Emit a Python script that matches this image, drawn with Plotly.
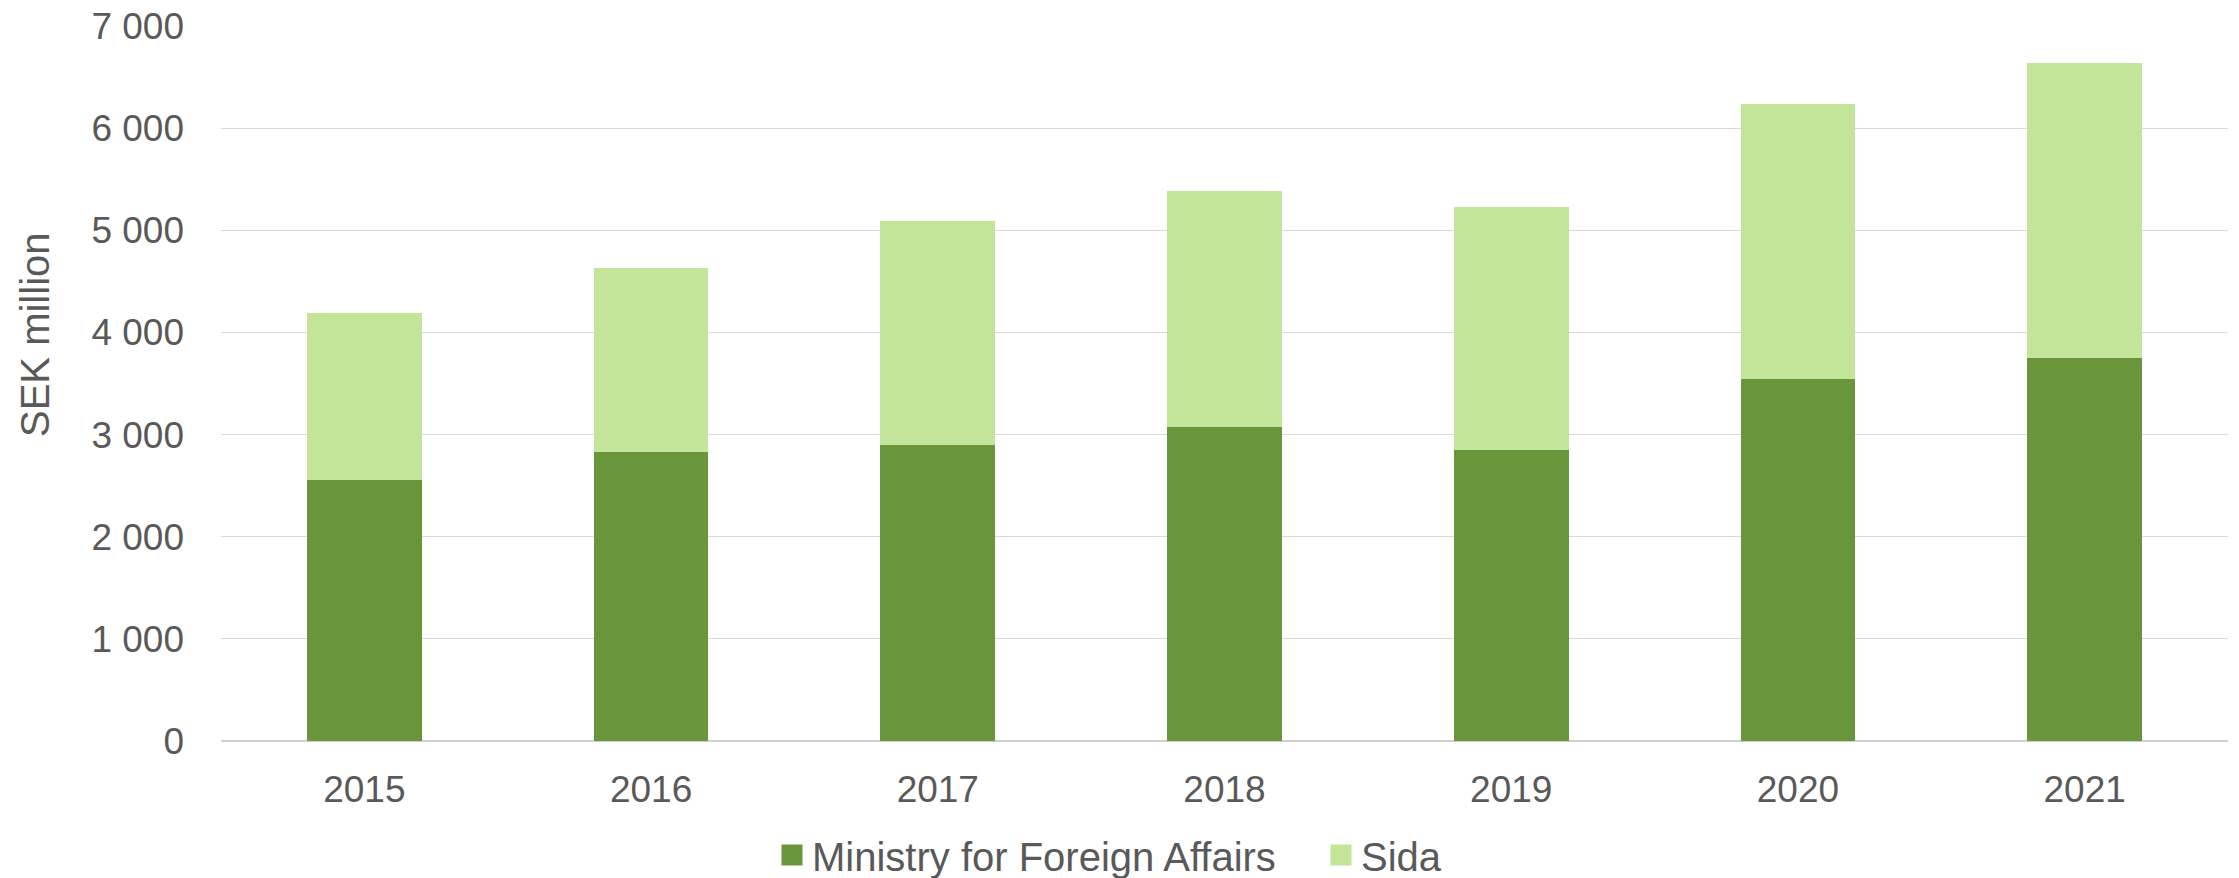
import plotly.graph_objects as go

years = ["2015", "2016", "2017", "2018", "2019", "2020", "2021"]
mfa = [2556, 2833, 2902, 3072, 2846, 3546, 3748]
sida = [1630, 1801, 2186, 2310, 2386, 2693, 2889]
series_names = ["Ministry for Foreign Affairs", "Sida"]
colors = ["#69963B", "#C2E59A"]
y_title = "SEK million"

# page body has an 8px margin
OFF = 8
W, H = 2239 - OFF, 878 - OFF
L, R, T, B = 221 - OFF, W - (2228 - OFF), 26 - OFF, H - (741 - OFF)
plot_w = W - L - R
plot_h = H - T - B

TXT = "#595959"
FONT = "Liberation Sans, Arial, sans-serif"

fig = go.Figure()
for name, vals, col in zip(series_names, [mfa, sida], colors):
    fig.add_trace(go.Bar(x=years, y=vals, name=name, showlegend=False,
                         marker=dict(color=col, line=dict(width=0))))
# legend entries with larger square swatches
for name, col in zip(series_names, colors):
    fig.add_trace(go.Scatter(x=[None], y=[None], mode="markers", name=name,
                             marker=dict(symbol="square", size=16, color=col,
                                         line=dict(width=5, color=col))))

fig.update_layout(
    width=W, height=H,
    barmode="stack", bargap=0.6,
    separators=". ",
    paper_bgcolor="white", plot_bgcolor="white",
    margin=dict(l=L, r=R, t=T, b=B, pad=0, autoexpand=False),
    font=dict(family=FONT, size=37, color=TXT),
    xaxis=dict(showgrid=False, showline=False, zeroline=False, ticks="",
               tickfont=dict(size=37, color=TXT), ticklabelstandoff=23),
    yaxis=dict(range=[0, 7000], dtick=1000, tickformat=",", showgrid=True,
               gridcolor="#D9D9D9", gridwidth=1.3, zeroline=True, zerolinecolor="#D0D0D0",
               zerolinewidth=1.6, showline=False, ticks="", ticklabeloverflow="allow",
               tickfont=dict(size=37, color=TXT), ticklabelstandoff=36),
    legend=dict(orientation="h", xanchor="left", yanchor="middle",
                x=(772 - 221) / plot_w, y=(741 - 855) / plot_h,
                font=dict(size=40, color=TXT), entrywidth=504,
                bgcolor="rgba(0,0,0,0)", traceorder="normal", itemsizing="trace"),
    showlegend=True,
    annotations=[dict(text=y_title, xref="paper", yref="paper",
                      x=(35 - 221) / plot_w, y=(741 - 335) / plot_h,
                      textangle=-90, showarrow=False, xanchor="center", yanchor="middle",
                      font=dict(size=40, color=TXT))],
)

fig.write_html("out.html")
